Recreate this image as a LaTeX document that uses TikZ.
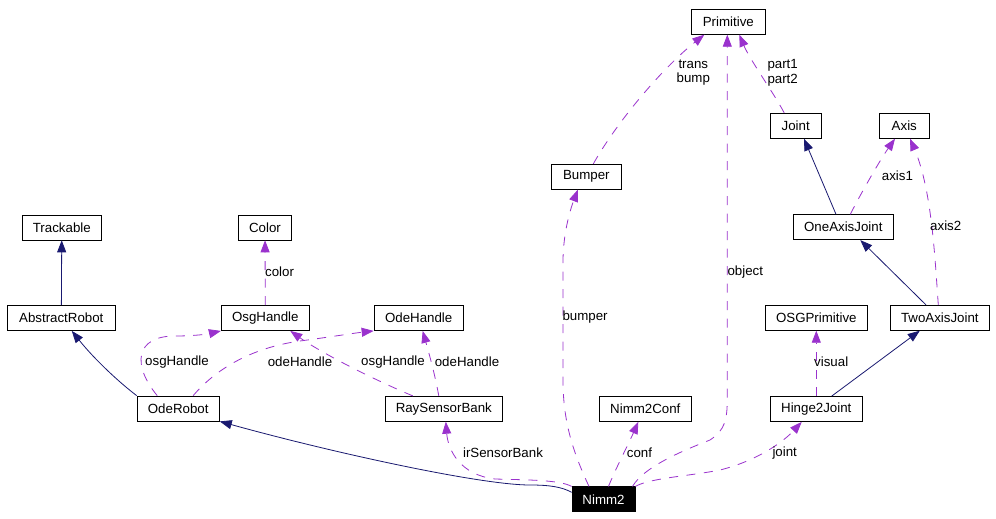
\documentclass[tikz,border=0pt]{standalone}
\usepackage{fontspec}
\setmainfont{Liberation Sans}
\usetikzlibrary{arrows.meta}
\definecolor{inhcol}{HTML}{191970}
\definecolor{usecol}{HTML}{9A32CD}
\newcommand\dfont{\fontsize{13.3}{14.7}\selectfont}
\begin{document}
\begin{tikzpicture}[x=1pt,y=-1pt,
  box/.style={draw=black, line width=0.8pt, minimum height=25pt, inner sep=0pt, font=\dfont},
  inh/.style={draw=inhcol, line width=0.8pt, -{Triangle[length=12pt,width=9pt]}, inhcol},
  dep/.style={draw=usecol, line width=0.8pt, dash pattern=on 9pt off 8.5pt, -{Triangle[length=12pt,width=9pt]}, usecol},
  lbl/.style={inner sep=0pt, font=\dfont, text=black}]
\useasboundingbox[fill=white] (0,0) rectangle (996,519);

% nodes
\node[box, minimum width=74pt]   (Primitive)     at (728.3,21.8)  {Primitive};
\node[box, minimum width=51.3pt] (Joint)         at (795.7,125.8) {Joint};
\node[box, minimum width=50pt]   (Axis)          at (904.3,125.8) {Axis};
\node[box, minimum width=70pt]   (Bumper)        at (586.3,176.8) {Bumper};
\node[box, minimum width=100pt]  (OneAxisJoint)  at (843.3,227.2) {OneAxisJoint};
\node[box, minimum width=79pt]   (Trackable)     at (61.8,227.4)  {Trackable};
\node[box, minimum width=53.4pt] (Color)         at (265,227.4)   {Color};
\node[box, minimum width=108pt]  (AbstractRobot) at (61.3,318)    {AbstractRobot};
\node[box, minimum width=88pt]   (OsgHandle)     at (265.3,318)   {OsgHandle};
\node[box, minimum width=89.3pt] (OdeHandle)     at (418.7,318)   {OdeHandle};
\node[box, minimum width=102pt]  (OSGPrimitive)  at (816.3,317.8) {OSGPrimitive};
\node[box, minimum width=99.7pt] (TwoAxisJoint)  at (939.8,317.8) {TwoAxisJoint};
\node[box, minimum width=82.3pt] (OdeRobot)      at (178.2,408.5) {OdeRobot};
\node[box, minimum width=117pt]  (RaySensorBank) at (443.8,408.8) {RaySensorBank};
\node[box, minimum width=92.7pt] (Nimm2Conf)     at (645.3,409)   {Nimm2Conf};
\node[box, minimum width=92pt]   (Hinge2Joint)   at (816.3,409)   {Hinge2Joint};
\node[box, minimum width=63pt, fill=black, text=white] (Nimm2) at (603.5,499.3) {Nimm2};

% inheritance edges
\draw[inh] (AbstractRobot) -- (Trackable);
\draw[inh] (OdeRobot.north west) .. controls (120,383) and (95,360) .. ([xshift=10.5pt]AbstractRobot.south);
\draw[inh] ([yshift=7pt]Nimm2.west) .. controls (562,487) and (550,485) .. (530,485)
   .. controls (480,485) and (330,452) .. (OdeRobot.south east);
\draw[inh] ([xshift=-7.3pt]OneAxisJoint.north) -- ([xshift=8.3pt]Joint.south);
\draw[inh] ([xshift=-13.8pt]TwoAxisJoint.north) -- ([xshift=17pt]OneAxisJoint.south);
\draw[inh] ([xshift=15.4pt]Hinge2Joint.north) -- ([xshift=-20pt]TwoAxisJoint.south);

% usage edges
\draw[dep] (OsgHandle) -- (Color);
\node[lbl, anchor=west] (lcolor) at (265,271.7) {color};

\draw[dep] ([xshift=-21pt]OdeRobot.north) .. controls (132,365) and (135,336) .. (175,336)
   .. controls (200,336) and (212,333) .. (OsgHandle.south west);
\node[lbl] (losg1) at (177,361.7) {osgHandle};

\draw[dep] ([xshift=15pt]OdeRobot.north) .. controls (215,370) and (250,348) .. (300,341)
   .. controls (330,337) and (355,333) .. (OdeHandle.south west);
\node[lbl] (lode1) at (300,361.7) {odeHandle};

\draw[dep] ([xshift=-31pt]RaySensorBank.north) .. controls (370,378) and (320,352) .. ([xshift=25pt]OsgHandle.south);
\node[lbl] (losg2) at (393,361.7) {osgHandle};

\draw[dep] ([xshift=-5pt]RaySensorBank.north) .. controls (434,370) and (428,350) .. ([xshift=4pt]OdeHandle.south);
\node[lbl] (lode2) at (467,361.7) {odeHandle};

\draw[dep] (Nimm2.north west) .. controls (560,480) and (530,480) .. (495,479)
   .. controls (460,475) and (448,450) .. ([xshift=2pt]RaySensorBank.south);
\node[lbl] (lir) at (503,452.7) {irSensorBank};

\draw[dep] ([xshift=-14.5pt]Nimm2.north) .. controls (572,450) and (563,420) .. (563,380)
   -- (563,262) .. controls (563,230) and (572,205) .. ([xshift=-8.5pt]Bumper.south);
\node[lbl, anchor=west] (lbumper) at (562.3,316.7) {bumper};

\draw[dep] ([xshift=7pt]Bumper.north) .. controls (615,125) and (660,70) .. ([xshift=-24pt]Primitive.south);
\node[lbl, align=center] (ltrans) at (693.3,72.7) {trans\\bump};

\draw[dep] ([xshift=29pt]Nimm2.north) .. controls (645,465) and (690,448) .. (710,440)
   .. controls (725,430) and (727,420) .. (727.3,400) -- ([xshift=-1pt]Primitive.south);
\node[lbl, anchor=west] (lobject) at (727.3,271.7) {object};

\draw[dep] ([xshift=5pt]Nimm2.north) .. controls (615,470) and (628,445) .. ([xshift=-7pt]Nimm2Conf.south);
\node[lbl, anchor=west] (lconf) at (626.7,452.7) {conf};

\draw[dep] (Nimm2.north east) .. controls (650,478) and (690,476) .. (720,470)
   .. controls (760,460) and (785,440) .. ([xshift=-14.6pt]Hinge2Joint.south);
\node[lbl, anchor=west] (ljoint) at (772.3,452.7) {joint};

\draw[dep] (Hinge2Joint) -- (OSGPrimitive);
\node[lbl, anchor=west] (lvisual) at (814,361.7) {visual};

\draw[dep] ([xshift=7pt]OneAxisJoint.north) .. controls (860,195) and (880,160) .. ([xshift=-9.3pt]Axis.south);
\node[lbl, anchor=west] (laxis1) at (881.7,175.7) {axis1};

\draw[dep] ([xshift=-1.5pt]TwoAxisJoint.north) .. controls (935,260) and (932,190) .. ([xshift=5.7pt]Axis.south);
\node[lbl, anchor=west] (laxis2) at (930,225.7) {axis2};

\draw[dep] ([xshift=-11.5pt]Joint.north) .. controls (775,95) and (750,60) .. ([xshift=11pt]Primitive.south);
\node[lbl, align=left, anchor=west] (lpart) at (767.3,72.7) {part1\\part2};
\end{tikzpicture}
\end{document}
